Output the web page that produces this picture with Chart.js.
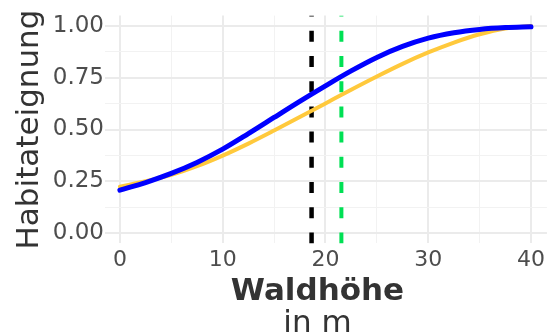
<!DOCTYPE html>
<html lang="de">
<head>
  <meta charset="UTF-8">
  <title>Habitateignung nach Waldhöhe</title>
  <script src="https://cdn.jsdelivr.net/npm/chart.js"></script>
  <style>
    html, body {
      margin: 0;
      padding: 0;
      background: #fff;
      overflow: hidden;
    }
  </style>
</head>
<body>
  <canvas id="chart" width="549" height="335"></canvas>

  <script>
    const hoehe = [0, 2.5, 5, 7.5, 10, 12.5, 15, 17.5, 20, 22.5, 25, 27.5, 30, 32.5, 35, 37.5, 40];
    const eignungBlau = [0.207, 0.244, 0.288, 0.341, 0.405, 0.480, 0.558, 0.636, 0.711, 0.783, 0.848, 0.901, 0.941, 0.967, 0.983, 0.992, 0.996];
    const eignungGelb = [0.224, 0.250, 0.281, 0.323, 0.374, 0.432, 0.495, 0.560, 0.626, 0.692, 0.756, 0.817, 0.872, 0.920, 0.960, 0.988, 1.0];

    // senkrechte Markierungen
    const markeSchwarz = 18.65;
    const markeGruen = 21.55;

    // Gitter / Beschriftung
    const xTicks = [0, 5, 10, 15, 20, 25, 30, 35, 40];
    const yTicks = [0, 0.125, 0.25, 0.375, 0.5, 0.625, 0.75, 0.875, 1];

    const yMin = -0.05, yMax = 1.05;

    function punkte(xs, ys) {
      return xs.map((x, i) => ({ x: x, y: ys[i] }));
    }
    // von unten nach oben, damit das Strichmuster unten beginnt
    function senkrecht(x) {
      return [{ x: x, y: yMin }, { x: x, y: yMax }];
    }

    const textFont = 'DejaVu Sans';

    // zweizeiliger x-Titel: "Waldhöhe" fett, "in m" normal
    const xTitel = {
      id: 'xTitel',
      afterDraw(chart) {
        const ctx = chart.ctx;
        ctx.save();
        ctx.fillStyle = '#333333';
        ctx.textAlign = 'center';
        ctx.textBaseline = 'alphabetic';
        ctx.font = 'bold 31px "' + textFont + '"';
        ctx.fillText('Waldhöhe', 317.5, 300);
        ctx.font = '31px "' + textFont + '"';
        ctx.fillText('in m', 317.5, 331.5);
        ctx.restore();
      }
    };

    const istMajorX = v => Math.abs(v % 10) < 1e-9;
    const istMajorY = v => Math.abs((v * 4) % 1) < 1e-9;

    new Chart(document.getElementById('chart'), {
      type: 'line',
      data: {
        datasets: [
          {
            data: punkte(hoehe, eignungBlau),
            borderColor: '#0000ff',
            borderWidth: 5,
            pointRadius: 0,
            cubicInterpolationMode: 'monotone',
            borderCapStyle: 'round'
          },
          {
            data: punkte(hoehe, eignungGelb),
            borderColor: '#ffc93c',
            borderWidth: 4,
            pointRadius: 0,
            cubicInterpolationMode: 'monotone',
            borderCapStyle: 'round'
          },
          {
            data: senkrecht(markeSchwarz),
            borderColor: '#000000',
            borderWidth: 4.5,
            borderDash: [11, 14.2],
            borderDashOffset: 0,
            pointRadius: 0
          },
          {
            data: senkrecht(markeGruen),
            borderColor: '#00e054',
            borderWidth: 4,
            borderDash: [11, 14.2],
            borderDashOffset: 0,
            pointRadius: 0
          }
        ]
      },
      options: {
        responsive: false,
        animation: false,
        layout: { padding: { top: 15.6, right: 0, bottom: 0, left: 0 } },
        plugins: {
          legend: { display: false },
          tooltip: { enabled: false }
        },
        scales: {
          x: {
            type: 'linear',
            min: -1.45,
            max: 41.55,
            afterBuildTicks: s => { s.ticks = xTicks.map(v => ({ value: v })); },
            afterFit: s => { s.height = 91.6; },
            border: { display: false },
            grid: {
              drawTicks: false,
              color: c => (c.tick && istMajorX(c.tick.value)) ? '#ebebeb' : '#f2f2f2',
              lineWidth: c => (c.tick && istMajorX(c.tick.value)) ? 2 : 1
            },
            ticks: {
              padding: 4,
              maxRotation: 0,
              autoSkip: false,
              color: '#4d4d4d',
              font: { family: textFont, size: 22 },
              callback: v => (istMajorX(v) ? String(v) : '')
            }
          },
          y: {
            min: yMin,
            max: yMax,
            afterBuildTicks: s => { s.ticks = yTicks.map(v => ({ value: v })); },
            afterFit: s => { s.width = 105; },
            border: { display: false },
            grid: {
              drawTicks: false,
              color: c => (c.tick && istMajorY(c.tick.value)) ? '#ebebeb' : '#f2f2f2',
              lineWidth: c => (c.tick && istMajorY(c.tick.value)) ? 2 : 1
            },
            ticks: {
              padding: 1,
              autoSkip: false,
              color: '#4d4d4d',
              font: { family: textFont, size: 23 },
              callback: v => (istMajorY(v) ? v.toFixed(2) : '')
            },
            title: {
              display: true,
              text: 'Habitateignung',
              color: '#333333',
              font: { family: textFont, size: 31 },
              padding: { top: 11, bottom: 0 }
            }
          }
        }
      },
      plugins: [xTitel]
    });
  </script>
</body>
</html>
